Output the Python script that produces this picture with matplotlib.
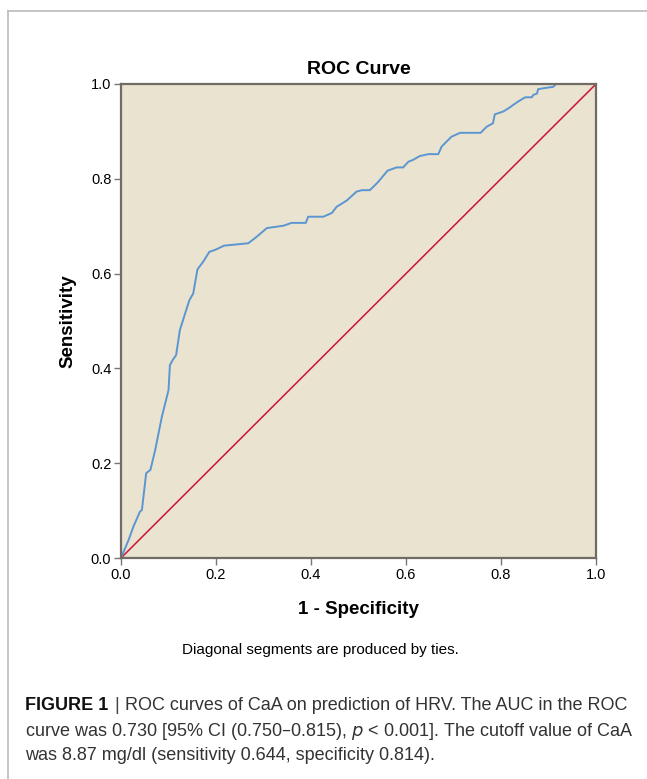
import matplotlib.pyplot as plt
from matplotlib.lines import Line2D

# ROC curve points (1 - specificity, sensitivity)
fpr = [0.0, 0.016, 0.026, 0.040, 0.044, 0.053, 0.062, 0.072, 0.086, 0.100,
       0.103, 0.109, 0.116, 0.124, 0.135, 0.144, 0.152, 0.161, 0.173, 0.186,
       0.198, 0.217, 0.268, 0.286, 0.307, 0.321, 0.342, 0.359, 0.389, 0.394,
       0.426, 0.444, 0.454, 0.475, 0.496, 0.507, 0.524, 0.542, 0.561, 0.580,
       0.594, 0.605, 0.615, 0.629, 0.647, 0.668, 0.675, 0.696, 0.714, 0.757,
       0.770, 0.783, 0.787, 0.805, 0.819, 0.826, 0.836, 0.851, 0.865, 0.868,
       0.876, 0.878, 0.889, 0.910, 0.916, 1.0]
tpr = [0.0, 0.038, 0.066, 0.098, 0.101, 0.179, 0.186, 0.228, 0.298, 0.354,
       0.407, 0.418, 0.428, 0.481, 0.516, 0.544, 0.558, 0.609, 0.625, 0.646,
       0.650, 0.659, 0.664, 0.678, 0.696, 0.698, 0.701, 0.707, 0.707, 0.720,
       0.720, 0.728, 0.741, 0.754, 0.773, 0.776, 0.776, 0.794, 0.817, 0.824,
       0.824, 0.836, 0.840, 0.848, 0.852, 0.852, 0.868, 0.889, 0.897, 0.897,
       0.910, 0.917, 0.936, 0.942, 0.951, 0.956, 0.963, 0.972, 0.972, 0.977,
       0.980, 0.989, 0.991, 0.994, 1.0, 1.0]
ref_line = [0.0, 1.0]
ticks = [0.0, 0.2, 0.4, 0.6, 0.8, 1.0]
tick_labels = ['0.0', '0.2', '0.4', '0.6', '0.8', '1.0']

plt.rcParams['font.family'] = ['Liberation Sans', 'DejaVu Sans']

fig = plt.figure(figsize=(6.47, 7.79), dpi=100)
ax = fig.add_axes([121 / 647, 1 - 558 / 779, 475 / 647, 474 / 779])
ax.set_facecolor('#EAE3D0')

ax.plot(ref_line, ref_line, color='#CC1236', lw=1.1)
ax.plot(fpr, tpr, color='#5B96D2', lw=1.4)

ax.set_xlim(0, 1)
ax.set_ylim(0, 1)
ax.set_xticks(ticks)
ax.set_xticklabels(tick_labels)
ax.set_yticks(ticks)
ax.set_yticklabels(tick_labels)
ax.tick_params(direction='out', length=5, width=1, color='#777777',
               labelsize=10.5, pad=2)
for s in ax.spines.values():
    s.set_color('#6E6C64')
    s.set_linewidth(1.6)

ax.set_title('ROC Curve', fontsize=14, fontweight='bold', pad=7)
ax.set_xlabel('1 - Specificity', fontsize=13.5, fontweight='bold')
ax.set_ylabel('Sensitivity', fontsize=13.5, fontweight='bold')
ax.xaxis.set_label_coords(0.5, -0.09)
ax.yaxis.set_label_coords(-0.094, 0.5)

fig.text(320 / 647, 1 - 650 / 779, 'Diagonal segments are produced by ties.',
         ha='center', va='center', fontsize=11)

# outer frame lines of the figure panel
fig.add_artist(Line2D([8 / 647, 8 / 647], [0, 1 - 11 / 779],
                      transform=fig.transFigure, color='#BBBBBB', lw=1.2))
fig.add_artist(Line2D([8 / 647, 1], [1 - 11 / 779, 1 - 11 / 779],
                      transform=fig.transFigure, color='#BBBBBB', lw=1.2))

# caption, first line built from pieces placed one after another
cap_size = 13
x0 = 25 / 647
y1 = 1 - 706 / 779
fig.canvas.draw()
r = fig.canvas.get_renderer()
t1 = fig.text(x0, y1, 'FIGURE 1', fontsize=cap_size, fontweight='bold',
              va='center', color='#111111')
w1 = t1.get_window_extent(r).width / fig.bbox.width
t2 = fig.text(x0 + w1 + 6 / 647, y1, '|', fontsize=cap_size, va='center',
              color='#444444')
w2 = t2.get_window_extent(r).width / fig.bbox.width
fig.text(x0 + w1 + w2 + 12 / 647, y1,
         'ROC curves of CaA on prediction of HRV. The AUC in the ROC',
         fontsize=cap_size, va='center', color='#333333')
fig.text(x0, 1 - 731 / 779,
         'curve was 0.730 [95% CI (0.750\u20130.815), $p$ < 0.001]. The cutoff value of CaA',
         fontsize=cap_size, va='center', color='#333333')
fig.text(x0, 1 - 756 / 779,
         'was 8.87 mg/dl (sensitivity 0.644, specificity 0.814).',
         fontsize=cap_size, va='center', color='#333333')

fig.savefig('out.png', dpi=100)
